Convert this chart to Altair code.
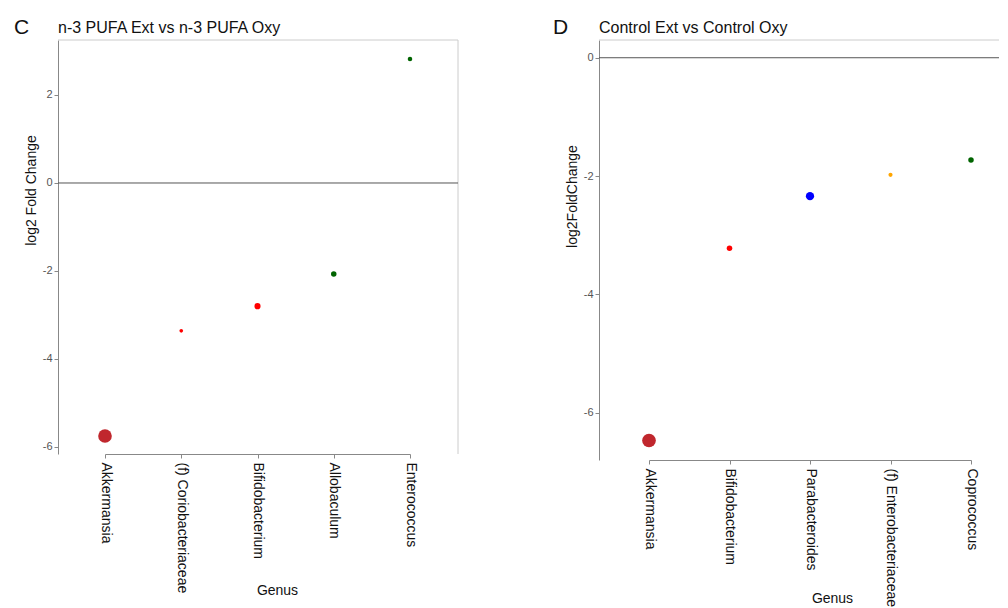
import altair as alt
import pandas as pd

# Panel C data
c_genus = ["Akkermansia", "(f) Coriobacteriaceae", "Bifidobacterium", "Allobaculum", "Enterococcus"]
c_lfc = [-5.75, -3.36, -2.80, -2.07, 2.82]
c_phylum = ["Verrucomicrobia", "Actinobacteria", "Actinobacteria", "Firmicutes", "Firmicutes"]
c_abund = [98, 7, 20, 16, 11]

# Panel D data
d_genus = ["Akkermansia", "Bifidobacterium", "Parabacteroides", "(f) Enterobacteriaceae", "Coprococcus"]
d_lfc = [-6.47, -3.22, -2.34, -1.98, -1.73]
d_phylum = ["Verrucomicrobia", "Actinobacteria", "Bacteroidetes", "Proteobacteria", "Firmicutes"]
d_abund = [98, 16, 36, 9, 16]

phyla = ["Verrucomicrobia", "Actinobacteria", "Firmicutes", "Bacteroidetes", "Proteobacteria"]
phylum_colors = ["#c0272d", "#ff0000", "#006400", "#0000ff", "#ffa500"]

FONT = "Liberation Sans"


def panel(genus, lfc, phylum, abund, letter, letter_x, title, ytitle, ydomain, yticks,
          width, height, xrange, ytitle_y, xtitle_x, xtitle_y, right_border):
    df = pd.DataFrame({"Genus": genus, "lfc": lfc, "phylum": phylum, "abund": abund})
    x = alt.X(
        "Genus:N", sort=genus,
        scale=alt.Scale(type="point", padding=0, range=xrange),
        axis=alt.Axis(
            title="Genus", labelAngle=90, labelAlign="left", labelBaseline="middle",
            labelFontSize=14, labelColor="#111", labelFont=FONT, labelPadding=4,
            tickColor="#888", tickSize=4, domainColor="#888",
            titleFont=FONT, titleFontSize=14, titleFontWeight="normal", titleColor="#111",
            titleX=xtitle_x, titleY=xtitle_y, titleBaseline="middle", titleAlign="center",
        ),
    )
    y = alt.Y(
        "lfc:Q",
        scale=alt.Scale(domain=ydomain, nice=False, zero=False),
        axis=alt.Axis(
            title=ytitle, values=yticks, labelExpr="'' + datum.value", grid=False,
            labelColor="#555", labelFontSize=11, labelFont=FONT, labelPadding=2,
            tickColor="#888", tickSize=4,
            domainColor="#888", titleFont=FONT, titleFontSize=14,
            titleFontWeight="normal", titleColor="#111", titleY=ytitle_y,
            titlePadding=4,
        ),
    )
    one = pd.DataFrame({"a": [0]})
    layers = []
    layers.append(alt.Chart(one).mark_rule(color="#cccccc", strokeWidth=1).encode(
        x=alt.value(0), x2=alt.value(width), y=alt.value(0)))
    if right_border:
        layers.append(alt.Chart(one).mark_rule(color="#cccccc", strokeWidth=1).encode(
            x=alt.value(width), y=alt.value(0), y2=alt.value(height)))
    layers.append(alt.Chart(pd.DataFrame({"z": [0]})).mark_rule(color="#555", strokeWidth=1).encode(
        y=alt.Y("z:Q")))
    layers.append(alt.Chart(df).mark_circle(opacity=1).encode(
        x=x, y=y,
        color=alt.Color("phylum:N", scale=alt.Scale(domain=phyla, range=phylum_colors), legend=None),
        size=alt.Size("abund:Q", scale=alt.Scale(domain=[0, 100], range=[0, 190]), legend=None),
    ))
    layers.append(alt.Chart(pd.DataFrame({"t": [letter]})).mark_text(
        font=FONT, fontSize=21, align="left", baseline="alphabetic", color="#111"
    ).encode(x=alt.value(letter_x), y=alt.value(-6), text="t:N"))
    layers.append(alt.Chart(pd.DataFrame({"t": [title]})).mark_text(
        font=FONT, fontSize=16, align="left", baseline="alphabetic", color="#111"
    ).encode(x=alt.value(0), y=alt.value(-7), text="t:N"))
    return alt.layer(*layers).properties(width=width, height=height)


c_panel = panel(c_genus, c_lfc, c_phylum, c_abund, "C", -44, "n-3 PUFA Ext vs n-3 PUFA Oxy",
                "log2 Fold Change", [-6.16, 3.25], [-6, -4, -2, 0, 2], 400, 414,
                [47, 352], 150, 219, 136, True)
d_panel = panel(d_genus, d_lfc, d_phylum, d_abund, "D", -46, "Control Ext vs Control Oxy",
                "log2FoldChange", [-6.8, 0.3], [-6, -4, -2, 0], 400, 420,
                [50, 372], 156, 233, 138, False)

chart = alt.hconcat(c_panel, d_panel, spacing=94).resolve_scale(
    color="independent", size="independent", x="independent", y="independent"
).configure_view(stroke=None).properties(
    padding={"left": 6, "top": 9, "right": 0, "bottom": 0})

chart.save("out.html", embed_options={"renderer": "svg", "actions": False})
